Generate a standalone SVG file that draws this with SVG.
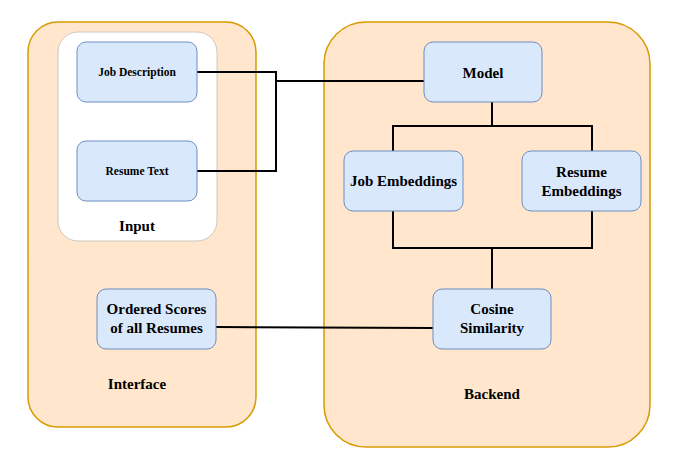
<svg xmlns="http://www.w3.org/2000/svg" width="683" height="468" viewBox="0 0 683 468">
<style>
.cont{fill:#ffe6cc;stroke:#d79b00;stroke-width:1.5}
.node{fill:#dae8fc;stroke:#6c8ebf;stroke-width:1}
text{font-family:'Liberation Serif','Times New Roman',serif;font-weight:bold;fill:#000;text-anchor:middle}
.s{font-size:11.5px}
.m{font-size:15px}
.edge{fill:none;stroke:#000;stroke-width:2}
</style>
<rect width="683" height="468" fill="#fff"/>
<g id="interface">
<rect class="cont" x="28" y="22" width="228" height="405" rx="30"/>
<text class="m" x="137" y="389" font-family="Liberation Serif, serif">Interface</text>
</g>
<g id="backend">
<rect class="cont" x="324" y="22" width="326" height="425" rx="42"/>
<text class="m" x="492" y="399" font-family="Liberation Serif, serif">Backend</text>
</g>
<g id="input">
<rect x="58" y="32" width="159" height="209" rx="20" fill="#fff" stroke="#d0c8c0" stroke-width="1"/>
<text class="m" x="137" y="231" font-family="Liberation Serif, serif">Input</text>
</g>
<g id="connectors">
<polyline class="edge" points="197,72 276,72 276,171 197,171"/>
<polyline class="edge" points="276,81 424,81"/>
<polyline class="edge" points="492,102 492,126"/>
<polyline class="edge" points="393,151 393,126 592,126 592,151"/>
<polyline class="edge" points="393,211 393,248 592,248 592,211"/>
<polyline class="edge" points="492,248 492,289"/>
<polyline class="edge" points="216,327 433,328"/>
</g>
<g id="job-description">
<rect class="node" x="77" y="42" width="120" height="60" rx="9"/>
<text class="s" x="137" y="76" font-family="Liberation Serif, serif">Job Description</text>
</g>
<g id="resume-text">
<rect class="node" x="77" y="141" width="120" height="60" rx="9"/>
<text class="s" x="137" y="175" font-family="Liberation Serif, serif">Resume Text</text>
</g>
<g id="model">
<rect class="node" x="424" y="42" width="118" height="60" rx="9"/>
<text class="m" x="483" y="78" font-family="Liberation Serif, serif">Model</text>
</g>
<g id="job-embeddings">
<rect class="node" x="344" y="151" width="119" height="60" rx="9"/>
<text class="m" x="403.5" y="186" font-family="Liberation Serif, serif">Job Embeddings</text>
</g>
<g id="resume-embeddings">
<rect class="node" x="522" y="151" width="119" height="60" rx="9"/>
<text class="m" x="581.5" y="177" font-family="Liberation Serif, serif">Resume</text>
<text class="m" x="581.5" y="196" font-family="Liberation Serif, serif">Embeddings</text>
</g>
<g id="ordered-scores">
<rect class="node" x="97" y="289" width="119" height="60" rx="9"/>
<text class="m" x="156.5" y="314" font-family="Liberation Serif, serif">Ordered Scores</text>
<text class="m" x="156.5" y="333" font-family="Liberation Serif, serif">of all Resumes</text>
</g>
<g id="cosine-similarity">
<rect class="node" x="433" y="289" width="118" height="60" rx="9"/>
<text class="m" x="492" y="314" font-family="Liberation Serif, serif">Cosine</text>
<text class="m" x="492" y="333" font-family="Liberation Serif, serif">Similarity</text>
</g>
</svg>
